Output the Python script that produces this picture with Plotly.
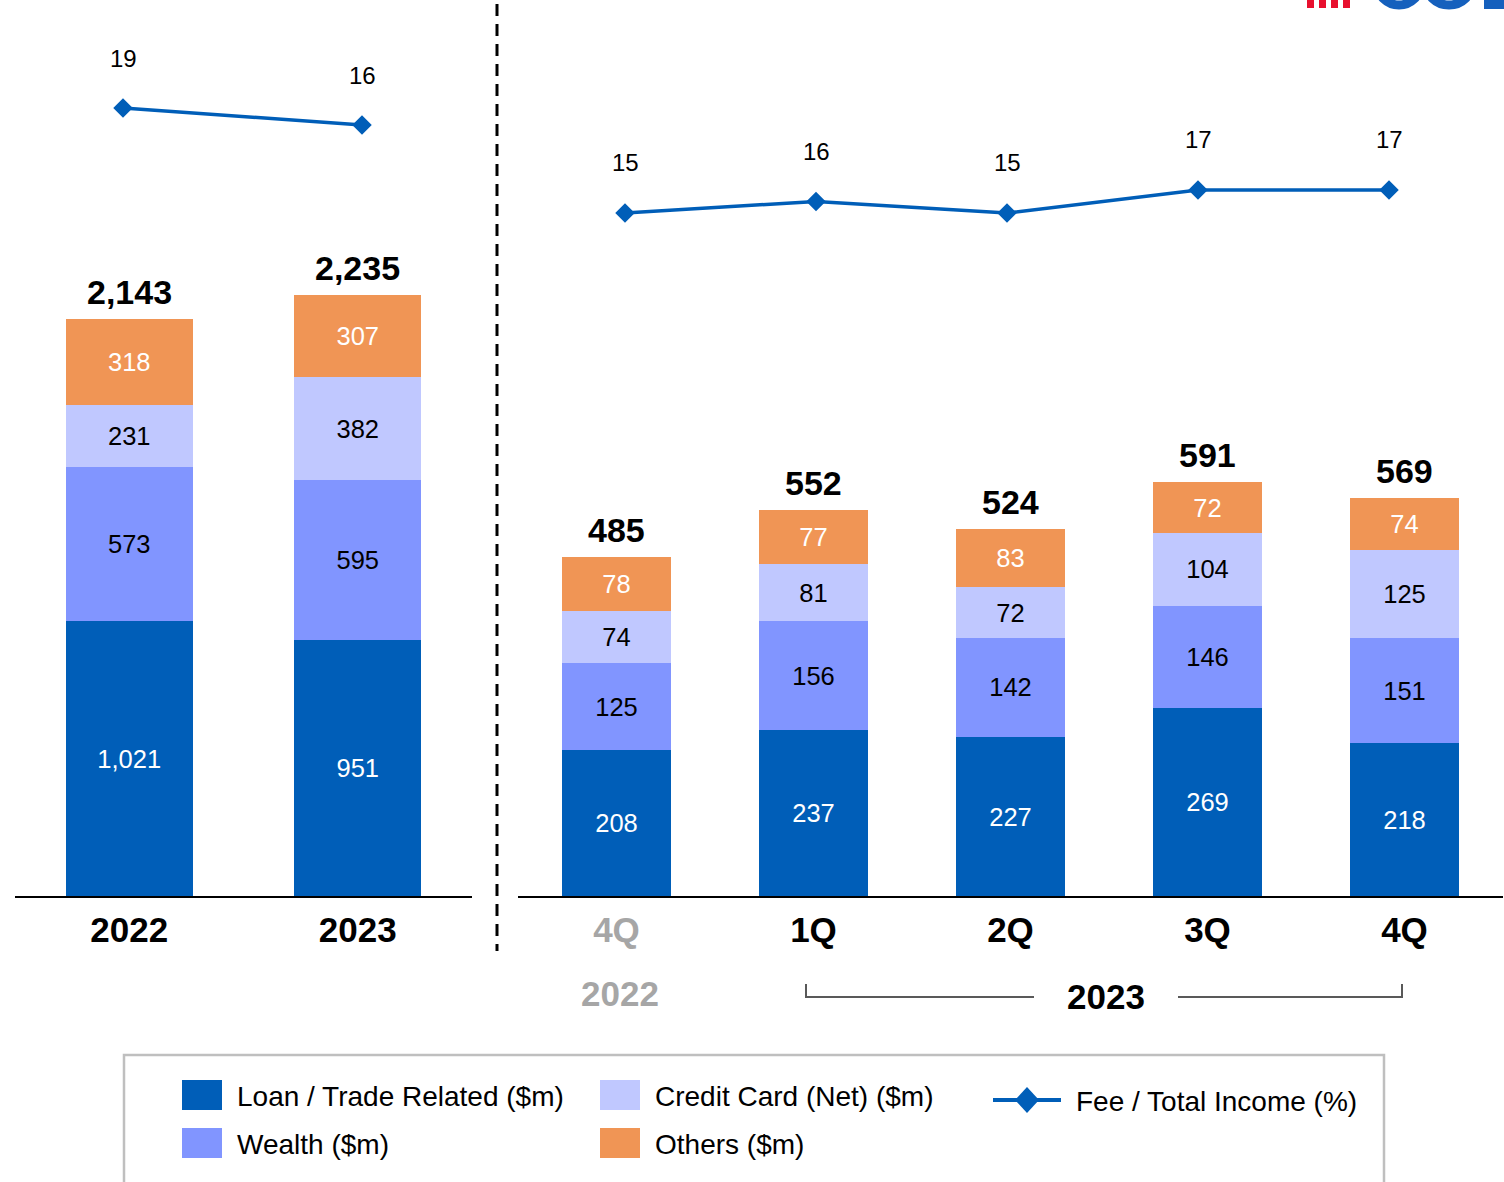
import plotly.graph_objects as go

# ---------------- data ----------------
annual_cats = ["2022", "2023"]
annual_ticks = ["2022", "2023"]
annual_loan = [1021, 951]
annual_wealth = [573, 595]
annual_card = [231, 382]
annual_others = [318, 307]
annual_total = [2143, 2235]
annual_fee_ratio = [19, 16]

quarter_cats = ["4Q22", "1Q23", "2Q23", "3Q23", "4Q23"]
quarter_ticks = ["4Q", "1Q", "2Q", "3Q", "4Q"]
quarter_loan = [208, 237, 227, 269, 218]
quarter_wealth = [125, 156, 142, 146, 151]
quarter_card = [74, 81, 72, 104, 125]
quarter_others = [78, 77, 83, 72, 74]
quarter_total = [485, 552, 524, 591, 569]
quarter_fee_ratio = [15, 16, 15, 17, 17]

series_names = ["Loan / Trade Related ($m)", "Wealth ($m)", "Credit Card (Net) ($m)", "Others ($m)"]
line_name = "Fee / Total Income (%)"

# ---------------- styling ----------------
W, H = 1504, 1182
FONT = "Liberation Sans, Arial, sans-serif"
colors = ["#005EB8", "#8195FF", "#C0C8FF", "#F09555"]
text_colors = ["white", "black", "black", "white"]
LINE_COLOR = "#005EB8"
GREY = "#A6A6A6"


def px(x):
    return x / W


def py(y):
    return 1 - y / H


fig = go.Figure()

annual_series = [annual_loan, annual_wealth, annual_card, annual_others]
quarter_series = [quarter_loan, quarter_wealth, quarter_card, quarter_others]

for name, vals, col, tcol in zip(series_names, annual_series, colors, text_colors):
    fig.add_trace(go.Bar(
        x=annual_cats, y=vals, name=name, marker=dict(color=col, line=dict(width=0)),
        texttemplate="%{y:,}", textposition="inside", insidetextanchor="middle",
        textangle=0, textfont=dict(size=25.5, color=tcol, family=FONT),
        xaxis="x", yaxis="y", showlegend=False,
    ))

for name, vals, col, tcol in zip(series_names, quarter_series, colors, text_colors):
    fig.add_trace(go.Bar(
        x=quarter_cats, y=vals, name=name, marker=dict(color=col, line=dict(width=0)),
        texttemplate="%{y:,}", textposition="inside", insidetextanchor="middle",
        textangle=0, textfont=dict(size=25.5, color=tcol, family=FONT),
        xaxis="x2", yaxis="y2", showlegend=False,
    ))

# fee ratio lines
fig.add_trace(go.Scatter(
    x=annual_cats, y=annual_fee_ratio, name=line_name, mode="lines+markers",
    line=dict(color=LINE_COLOR, width=3.5),
    marker=dict(symbol="diamond", size=15, color=LINE_COLOR),
    xaxis="x3", yaxis="y3", showlegend=False, cliponaxis=False,
))
fig.add_trace(go.Scatter(
    x=quarter_cats, y=quarter_fee_ratio, name=line_name, mode="lines+markers",
    line=dict(color=LINE_COLOR, width=3.5),
    marker=dict(symbol="diamond", size=15, color=LINE_COLOR),
    xaxis="x4", yaxis="y4", showlegend=False, cliponaxis=False,
))

annotations = []

# stack totals (x given as category index)
for cats, series, totals, xr, yr in [
    (annual_cats, annual_series, annual_total, "x", "y"),
    (quarter_cats, quarter_series, quarter_total, "x2", "y2"),
]:
    for i in range(len(cats)):
        top = sum(s[i] for s in series)
        annotations.append(dict(
            x=i, y=top, xref=xr, yref=yr, text=f"<b>{totals[i]:,}</b>",
            showarrow=False, xanchor="center", yanchor="middle", yshift=27,
            font=dict(size=34, color="black", family=FONT),
        ))

# fee ratio labels
for cats, vals, xr, yr in [
    (annual_cats, annual_fee_ratio, "x3", "y3"),
    (quarter_cats, quarter_fee_ratio, "x4", "y4"),
]:
    for i, v in enumerate(vals):
        annotations.append(dict(
            x=i, y=v, xref=xr, yref=yr, text=str(v), showarrow=False,
            xanchor="center", yanchor="middle", yshift=50,
            font=dict(size=24, color="black", family=FONT),
        ))

# period group labels under the quarterly axis
annotations.append(dict(x=px(620), y=py(993), xref="paper", yref="paper", text="<b>2022</b>",
                        showarrow=False, xanchor="center", yanchor="middle",
                        font=dict(size=35, color=GREY, family=FONT)))
annotations.append(dict(x=px(1106), y=py(996), xref="paper", yref="paper", text="<b>2023</b>",
                        showarrow=False, xanchor="center", yanchor="middle",
                        font=dict(size=35, color="black", family=FONT)))

shapes = []
# divider between annual and quarterly panels
shapes.append(dict(type="line", xref="paper", yref="paper", x0=px(497), x1=px(497),
                   y0=py(4), y1=py(951), line=dict(color="black", width=3, dash="12px,8px")))
# bracket for 2023 quarters
shapes.append(dict(type="path", xref="paper", yref="paper",
                   path=f"M {px(806)},{py(984)} L {px(806)},{py(997)} L {px(1034)},{py(997)}",
                   line=dict(color="#595959", width=2)))
shapes.append(dict(type="path", xref="paper", yref="paper",
                   path=f"M {px(1178)},{py(997)} L {px(1402)},{py(997)} L {px(1402)},{py(984)}",
                   line=dict(color="#595959", width=2)))

# legend box
shapes.append(dict(type="rect", xref="paper", yref="paper", x0=px(124), x1=px(1384),
                   y0=py(1200), y1=py(1055), line=dict(color="#BFBFBF", width=2.5),
                   fillcolor="rgba(0,0,0,0)"))
legend_slots = [(182, 1095), (182, 1143), (600, 1095), (600, 1143)]
for (lx, ly), name, col in zip(legend_slots, series_names, colors):
    shapes.append(dict(type="rect", xref="paper", yref="paper", x0=px(lx), x1=px(lx + 40),
                       y0=py(ly + 15), y1=py(ly - 15), fillcolor=col, line=dict(width=0)))
    annotations.append(dict(x=px(lx + 53), y=py(ly + 1), xref="paper", yref="paper", text=name,
                            showarrow=False, xanchor="left", yanchor="middle",
                            font=dict(size=28, color="black", family=FONT)))
# line legend entry
ly = 1100
shapes.append(dict(type="line", xref="paper", yref="paper", x0=px(993), x1=px(1061),
                   y0=py(ly), y1=py(ly), line=dict(color=LINE_COLOR, width=4)))
cx, r = 1027, 13
shapes.append(dict(type="path", xref="paper", yref="paper",
                   path=(f"M {px(cx)},{py(ly - r)} L {px(cx + r - 1)},{py(ly)} "
                         f"L {px(cx)},{py(ly + r)} L {px(cx - r + 1)},{py(ly)} Z"),
                   fillcolor=LINE_COLOR, line=dict(width=0)))
annotations.append(dict(x=px(1074), y=py(ly + 1), xref="paper", yref="paper", text=line_name,
                        showarrow=False, xanchor="left", yanchor="middle",
                        font=dict(size=28, color="black", family=FONT)))

# corner logo fragment
for i in range(4):
    x0 = 1307 + i * 12
    shapes.append(dict(type="rect", xref="paper", yref="paper", x0=px(x0), x1=px(x0 + 7),
                       y0=py(8), y1=py(-2), fillcolor="#E8102E", line=dict(width=0)))
for ccx, rr in [(1399, 22), (1449, 24)]:
    shapes.append(dict(type="circle", xref="paper", yref="paper", x0=px(ccx - rr), x1=px(ccx + rr),
                       y0=py(5), y1=py(-2 * rr + 5), line=dict(color="#1560BD", width=9),
                       fillcolor="rgba(0,0,0,0)"))
shapes.append(dict(type="rect", xref="paper", yref="paper", x0=px(1484), x1=px(1510),
                   y0=py(9), y1=py(-2), fillcolor="#1560BD", line=dict(width=0)))

bar_dom = [py(896), 1.0]
tickfont = dict(size=35, color="black", family=FONT)

fig.update_layout(
    width=W, height=H, margin=dict(l=0, r=0, t=0, b=0, autoexpand=False),
    paper_bgcolor="white", plot_bgcolor="rgba(0,0,0,0)",
    barmode="stack", bargap=0.445,
    uniformtext=dict(minsize=25, mode="show"),
    font=dict(family=FONT),
    xaxis=dict(domain=[px(15), px(472)], anchor="y", type="category",
               categoryorder="array", categoryarray=annual_cats, range=[-0.5, 1.5],
               tickmode="array", tickvals=annual_cats, tickangle=0,
               ticktext=[f"<b>{t}</b>" for t in annual_ticks], tickfont=tickfont,
               showline=True, linecolor="black", linewidth=2, ticks="",
               ticklabelstandoff=2, showgrid=False, zeroline=False),
    yaxis=dict(domain=bar_dom, anchor="x", range=[0, 896 / 0.2691], visible=False),
    xaxis2=dict(domain=[px(518), px(1503)], anchor="y2", type="category",
                categoryorder="array", categoryarray=quarter_cats, range=[-0.5, 4.5],
                tickmode="array", tickvals=quarter_cats, tickangle=0,
                ticktext=[f'<b><span style="color:{GREY}">{quarter_ticks[0]}</span></b>']
                + [f"<b>{t}</b>" for t in quarter_ticks[1:]],
                tickfont=tickfont,
                showline=True, linecolor="black", linewidth=2, ticks="",
                ticklabelstandoff=2, showgrid=False, zeroline=False),
    yaxis2=dict(domain=bar_dom, anchor="x2", range=[0, 896 / 0.70], visible=False),
    xaxis3=dict(domain=[px(3.5), px(481.5)], anchor="y3", type="category",
                categoryorder="array", categoryarray=annual_cats, range=[-0.5, 1.5],
                visible=False),
    yaxis3=dict(domain=bar_dom, anchor="x3", range=[-120.06, 38.06], visible=False),
    xaxis4=dict(domain=[px(529.5), px(1484.5)], anchor="y4", type="category",
                categoryorder="array", categoryarray=quarter_cats, range=[-0.5, 4.5],
                visible=False),
    yaxis4=dict(domain=bar_dom, anchor="x4", range=[-44.39, 33.52], visible=False),
    annotations=annotations,
    shapes=shapes,
)

fig.write_html("out.html")
